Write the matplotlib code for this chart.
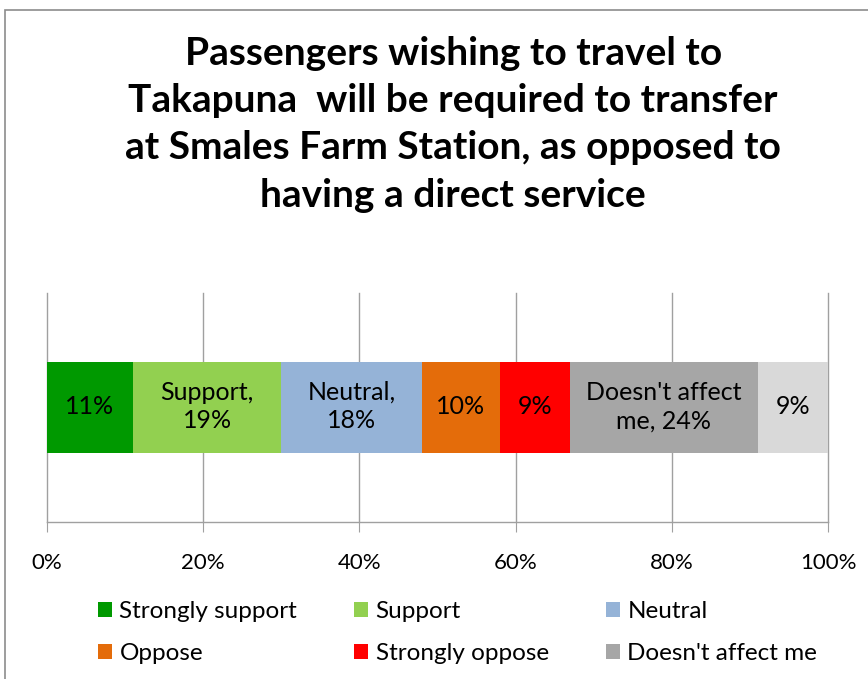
import matplotlib
matplotlib.use("Agg")
import matplotlib.pyplot as plt
from matplotlib.patches import Rectangle

plt.rcParams['font.family'] = ['Lato', 'DejaVu Sans']

# Survey response shares (percent of respondents)
categories = ["Strongly support", "Support", "Neutral", "Oppose",
              "Strongly oppose", "Doesn't affect me", "Don't know"]
values = [11, 19, 18, 10, 9, 24, 9]
colors = ["#009900", "#92D050", "#95B3D7", "#E46C0A", "#FF0000",
          "#A6A6A6", "#D9D9D9"]
bar_labels = ["11%", "Support,\n19%", "Neutral,\n18%", "10%", "9%",
              "Doesn't affect\nme, 24%", "9%"]
tick_values = [0, 20, 40, 60, 80, 100]
tick_labels = ["0%", "20%", "40%", "60%", "80%", "100%"]
title = ("Passengers wishing to travel to\nTakapuna  will be required to transfer\n"
         "at Smales Farm Station, as opposed to\nhaving a direct service")

W, H = 868, 679
fig = plt.figure(figsize=(W / 100, H / 100), dpi=100)

# outer chart frame
fig.patches.append(Rectangle((5 / W, -0.1), 1.2, 1 - 10 / H + 0.1,
                             transform=fig.transFigure, fill=False,
                             edgecolor="#8C8C8C", linewidth=1.2))

ax = fig.add_axes([47 / W, 1 - 522 / H, (828 - 47) / W, (522 - 293) / H])

left = 0
for cat, val, col, lab in zip(categories, values, colors, bar_labels):
    ax.barh(0, val, left=left, height=0.4, color=col, edgecolor="none",
            zorder=3, label=cat)
    ax.text(left + val / 2, 0.005, lab, ha="center", va="center",
            fontsize=18, color="black", linespacing=1.3, zorder=4)
    left += val

ax.set_xlim(0, 100)
ax.set_ylim(-0.5, 0.5)
ax.set_xticks(tick_values)
ax.set_xticklabels(tick_labels, fontsize=16)
ax.set_yticks([])
ax.xaxis.grid(True, color="#A0A0A0", linewidth=1.0, zorder=0)
for gl in ax.get_xgridlines():
    gl.set_clip_on(False)
for s in ["top", "right", "left"]:
    ax.spines[s].set_visible(False)
ax.spines["bottom"].set_color("#A0A0A0")
ax.spines["bottom"].set_linewidth(1.0)
ax.tick_params(axis="x", direction="out", length=7, color="#A0A0A0", pad=15)

fig.text(0.522, 1 - 36 / H, title, ha="center", va="top", fontsize=28,
         fontweight="bold", linespacing=1.42)

# legend laid out row by row (three per row), first six series only
h, l = ax.get_legend_handles_labels()
order = [0, 3, 1, 4, 2, 5]
fig.legend([h[i] for i in order], [l[i] for i in order], loc="upper left",
           bbox_to_anchor=(98 / W, 1 - 601 / H), ncol=3, frameon=False,
           fontsize=17.5, handlelength=0.58, handleheight=0.58,
           handletextpad=0.3, columnspacing=2.35, labelspacing=0.85,
           borderpad=0, borderaxespad=0)

fig.savefig("out.png", dpi=100)
